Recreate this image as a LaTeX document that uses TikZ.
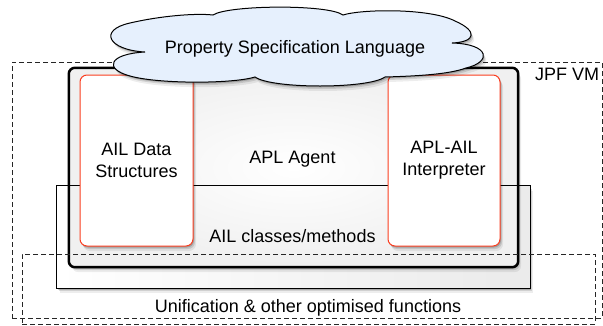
\documentclass[tikz,border=0pt]{standalone}
\usepackage{fontspec}
\setmainfont{Liberation Sans}
\usetikzlibrary{shadows}
\definecolor{cloudblue}{RGB}{230,240,253}
\definecolor{boxred}{RGB}{250,62,32}
\begin{document}
\begin{tikzpicture}[x=1pt,y=-1pt,
  font=\fontsize{18}{22}\selectfont,
  softshadow/.style={
    drop shadow={shadow xshift=1pt,shadow yshift=-1.5pt,opacity=.18,fill=black},
    drop shadow={shadow xshift=2pt,shadow yshift=-3pt,opacity=.12,fill=black},
    drop shadow={shadow xshift=3pt,shadow yshift=-5pt,opacity=.07,fill=black}},
  vmbox/.style={draw=black!85,line width=1pt,dash pattern=on 5pt off 3pt,
    rectangle,inner sep=0pt},
  agentbox/.style={rectangle,rounded corners=6pt,inner sep=0pt},
  ailbox/.style={rectangle,inner sep=0pt},
  redbox/.style={rectangle,rounded corners=7pt,draw=boxred,line width=1pt,
    fill=white,inner sep=0pt,align=center,softshadow},
  cloudshape/.style={draw=black,line width=1pt,fill=cloudblue,softshadow},
  label/.style={inner sep=0pt,anchor=base}]
\useasboundingbox (0,0) rectangle (603,325);

% outer JPF VM region
\node[vmbox,minimum width=590pt,minimum height=256pt] (jpf) at (307,190) {};
\node[label,anchor=base west] (jpflabel) at (535,80) {JPF VM};

% AIL classes/methods box
\node[ailbox,minimum width=473pt,minimum height=102pt,softshadow,
  left color=white,right color=black!8] (ail) at (293.5,237) {};

% APL agent box
\node[agentbox,minimum width=449pt,minimum height=199pt,softshadow,
  inner color=white,outer color=black!6] (agent) at (293.5,167.5) {};
\draw[line width=2.5pt,rounded corners=6pt] (agent.north west) rectangle (agent.south east);
\draw[line width=1pt] (ail.north west) rectangle (ail.south east);

\node[label] (agentlabel) at (292.5,163) {APL Agent};
\node[label] (aillabel) at (292.5,242) {AIL classes/methods};

% red components
\node[redbox,minimum width=113pt,minimum height=171pt] (data) at (136.5,160.5)
  {AIL Data\\Structures};
\node[redbox,minimum width=112pt,minimum height=171pt] (interp) at (444,160.5)
  {APL-AIL\\Interpreter};

% unification region
\node[vmbox,minimum width=573pt,minimum height=70pt] (unif) at (308.5,289) {};
\node[label] (uniflabel) at (308,312) {Unification \& other optimised functions};

% cloud
\path[cloudshape] (145,52)
  .. controls (108,50) and (98,30) .. (130,23)
  .. controls (160,16) and (195,13) .. (213,15)
  .. controls (228,5) and (328,4) .. (343,15)
  .. controls (362,9) and (430,8) .. (455,21)
  .. controls (478,31) and (476,42) .. (452,43)
  .. controls (490,44) and (492,62) .. (466,68)
  .. controls (450,74) and (420,76) .. (385,77)
  .. controls (368,89) and (272,89) .. (255,77)
  .. controls (232,84) and (158,84) .. (130,76)
  .. controls (104,69) and (108,54) .. (145,52) -- cycle;
\node[label] (psl) at (295,53.5) {Property Specification Language};
\end{tikzpicture}
\end{document}
